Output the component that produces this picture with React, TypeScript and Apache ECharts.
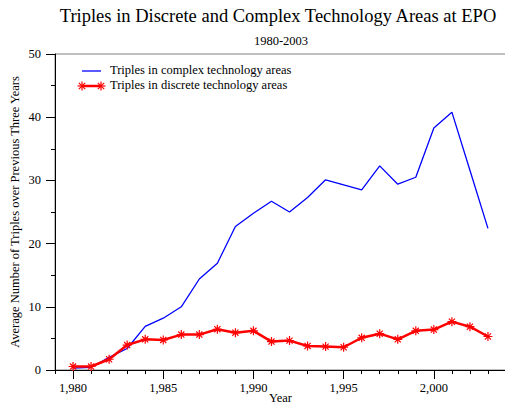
import React, { useEffect, useRef } from "react";
import * as echarts from "echarts";

const years = [1980, 1981, 1982, 1983, 1984, 1985, 1986, 1987, 1988, 1989, 1990, 1991, 1992, 1993, 1994, 1995, 1996, 1997, 1998, 1999, 2000, 2001, 2002, 2003];
const complexTriples = [0.3, 0.4, 2.0, 3.4, 6.9, 8.2, 10.0, 14.4, 16.9, 22.7, 24.8, 26.7, 25.0, 27.3, 30.1, 29.3, 28.5, 32.3, 29.4, 30.5, 38.3, 40.8, 31.6, 22.4];
const discreteTriples = [0.55, 0.55, 1.7, 3.95, 4.85, 4.75, 5.6, 5.6, 6.45, 5.9, 6.2, 4.5, 4.65, 3.8, 3.7, 3.6, 5.1, 5.75, 4.85, 6.2, 6.4, 7.65, 6.85, 5.3];
const xLabelYears = [1980, 1985, 1990, 1995, 2000];
const seriesNames = ["Triples in complex technology areas", "Triples in discrete technology areas"];

const FONT = "Liberation Serif";
const ASTERISK = "path://M5,0L5,10M0,5L10,5M1.6,1.6L8.4,8.4M1.6,8.4L8.4,1.6";

function asteriskLines(cx: number, cy: number, r: number, color: string) {
  const d = r * 0.707;
  const segs = [
    [cx, cy - r, cx, cy + r],
    [cx - r, cy, cx + r, cy],
    [cx - d, cy - d, cx + d, cy + d],
    [cx - d, cy + d, cx + d, cy - d],
  ];
  return segs.map((s) => ({
    type: "line",
    shape: { x1: s[0], y1: s[1], x2: s[2], y2: s[3] },
    style: { stroke: color, lineWidth: 1.2 },
    z: 10,
  }));
}

export default function App() {
  const ref = useRef<HTMLDivElement>(null);
  useEffect(() => {
    if (!ref.current) return;
    const chart = echarts.init(ref.current, undefined, { renderer: "svg" });
    const option: any = {
      animation: false,
      textStyle: { fontFamily: FONT, color: "#000" },
      title: [
        {
          text: "Triples in Discrete and Complex Technology Areas at EPO",
          left: 278,
          textAlign: "center",
          top: 6,
          padding: 0,
          textStyle: { fontFamily: FONT, fontSize: 18.5, fontWeight: "normal", color: "#000" },
        },
        {
          text: "1980-2003",
          left: 281,
          textAlign: "center",
          top: 34,
          padding: 0,
          textStyle: { fontFamily: FONT, fontSize: 12.5, fontWeight: "normal", color: "#000" },
        },
      ],
      grid: {
        left: 55,
        top: 54,
        width: 451,
        height: 316,
        outerBoundsMode: "none",
        containLabel: false,
        show: true,
        borderColor: "#808080",
        borderWidth: 1,
        backgroundColor: "transparent",
      },
      xAxis: [
        {
          type: "value",
          min: 1979,
          max: 2004,
          interval: 1,
          position: "bottom",
          name: "Year",
          nameLocation: "middle",
          nameGap: 21,
          nameMoveOverlap: false,
          nameTextStyle: { fontFamily: FONT, fontSize: 12.5, color: "#000" },
          axisLine: { show: true, lineStyle: { color: "#000", width: 1 } },
          axisTick: { show: true, length: 4, lineStyle: { color: "#000" } },
          axisLabel: {
            customValues: xLabelYears,
            fontFamily: FONT,
            fontSize: 12.5,
            color: "#000",
            margin: 11,
          },
          splitLine: { show: false },
        },
        {
          type: "value",
          min: 1979,
          max: 2004,
          interval: 1,
          position: "bottom",
          offset: 0,
          axisLine: { show: false },
          axisTick: { show: true, length: 9, customValues: xLabelYears, lineStyle: { color: "#000" } },
          axisLabel: { show: false },
          splitLine: { show: false },
        },
      ],
      yAxis: {
        type: "value",
        min: 0,
        max: 50,
        interval: 10,
        name: "Average Number of Triples over Previous Three Years",
        nameLocation: "middle",
        nameGap: 34,
        nameMoveOverlap: false,
        nameTextStyle: { fontFamily: FONT, fontSize: 12.5, color: "#000" },
        axisLine: { show: true, lineStyle: { color: "#000", width: 1 } },
        axisTick: { show: true, length: 9, lineStyle: { color: "#000" } },
        minorTick: { show: true, splitNumber: 2, length: 4, lineStyle: { color: "#000" } },
        axisLabel: { fontFamily: FONT, fontSize: 12.5, color: "#000", margin: 14 },
        splitLine: { show: false },
        minorSplitLine: { show: false },
      },
      series: [
        {
          name: seriesNames[0],
          type: "line",
          xAxisIndex: 0,
          data: years.map((y, i) => [y, complexTriples[i]]),
          symbol: "none",
          lineStyle: { color: "#0000ff", width: 1.3 },
          itemStyle: { color: "#0000ff" },
        },
        {
          name: seriesNames[1],
          type: "line",
          xAxisIndex: 0,
          data: years.map((y, i) => [y, discreteTriples[i]]),
          symbol: ASTERISK,
          symbolSize: 9,
          showAllSymbol: true,
          lineStyle: { color: "#ff0000", width: 2.5 },
          itemStyle: { color: "#ff0000", borderColor: "#ff0000", borderWidth: 1.2 },
        },
      ],
      graphic: [
        {
          type: "line",
          shape: { x1: 82, y1: 71, x2: 101, y2: 71 },
          style: { stroke: "#0000ff", lineWidth: 1.3 },
        },
        {
          type: "text",
          left: 110,
          top: 63,
          style: { text: seriesNames[0], fontFamily: FONT, fontSize: 12.5, fill: "#000" },
        },
        {
          type: "line",
          shape: { x1: 82, y1: 86, x2: 101, y2: 86 },
          style: { stroke: "#ff0000", lineWidth: 2.5 },
        },
        ...asteriskLines(82, 86, 4.5, "#ff0000"),
        ...asteriskLines(101, 86, 4.5, "#ff0000"),
        {
          type: "text",
          left: 110,
          top: 78,
          style: { text: seriesNames[1], fontFamily: FONT, fontSize: 12.5, fill: "#000" },
        },
      ],
    };
    chart.setOption(option);
    return () => chart.dispose();
  }, []);
  return <div ref={ref} style={{ width: 505, height: 407, position: "absolute", left: 0, top: 0 }} />;
}
